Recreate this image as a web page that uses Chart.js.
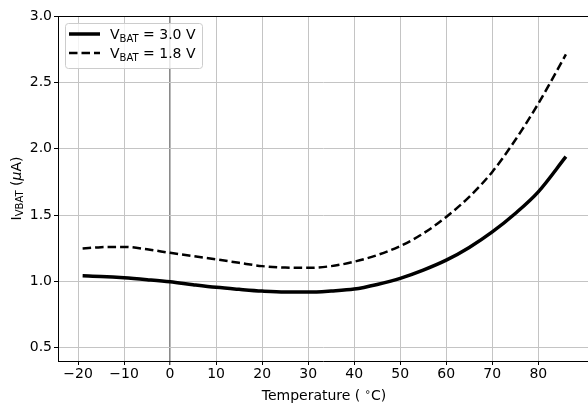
<!DOCTYPE html>
<html>
<head>
<meta charset="utf-8">
<script src="https://cdn.jsdelivr.net/npm/chart.js@4/dist/chart.umd.min.js"></script>
<style>
  html, body { margin: 0; padding: 0; background: #fff; }
  #wrap { width: 588px; height: 404px; position: relative; }
</style>
</head>
<body>
<div id="wrap"><canvas id="c" width="588" height="404"></canvas></div>
<script>
// ---- data ----
const temps = [-19, -15, -10, -5, 0, 5, 10, 15, 20, 25, 30, 35, 40, 45, 50, 55, 60, 65, 70, 75, 80, 86];
const ivbat30 = [1.042, 1.037, 1.027, 1.013, 0.997, 0.975, 0.955, 0.940, 0.927, 0.920, 0.920, 0.928, 0.942, 0.977, 1.023, 1.085, 1.160, 1.256, 1.373, 1.512, 1.675, 1.940];
const ivbat18 = [1.248, 1.258, 1.260, 1.242, 1.215, 1.190, 1.166, 1.140, 1.115, 1.104, 1.102, 1.115, 1.148, 1.198, 1.266, 1.361, 1.486, 1.637, 1.825, 2.065, 2.340, 2.710];
const seriesVoltages = ['3.0 V', '1.8 V'];
const xTicks = [-20, -10, 0, 10, 20, 30, 40, 50, 60, 70, 80];
const yTicks = [0.5, 1.0, 1.5, 2.0, 2.5, 3.0];
const xTitle = ['Temperature (', '\u2218', 'C)'];
const yTitle = ['I', 'VBAT', ' (', '\u03bc', 'A)'];

const FONT = '"DejaVu Sans", sans-serif';
const GRID = '#c4c4c4';
const FS = 14, FSS = 10;
const DASH = [8.5, 4];

function pts(xs, ys) { return xs.map((x, i) => ({ x: x, y: ys[i] })); }

const decorPlugin = {
  id: 'decor',
  afterDraw(chart) {
    const ctx = chart.ctx;
    const a = chart.chartArea;
    ctx.save();
    // top spine
    ctx.strokeStyle = '#000';
    ctx.lineWidth = 1;
    ctx.beginPath();
    ctx.moveTo(a.left, Math.round(a.top) + 0.5);
    ctx.lineTo(588, Math.round(a.top) + 0.5);
    ctx.stroke();

    // legend box
    const bx = 65.5, by = 23.5, bw = 137, bh = 45;
    ctx.fillStyle = 'rgba(255,255,255,0.8)';
    ctx.strokeStyle = '#cccccc';
    ctx.lineWidth = 1;
    ctx.beginPath();
    ctx.roundRect(bx, by, bw, bh, 3);
    ctx.fill();
    ctx.stroke();

    const rows = [
      { y: 34, width: 3.5, dash: [] , v: seriesVoltages[0]},
      { y: 53, width: 2.5, dash: DASH, v: seriesVoltages[1]}
    ];
    rows.forEach(r => {
      ctx.strokeStyle = '#000';
      ctx.lineWidth = r.width;
      ctx.setLineDash(r.dash);
      ctx.beginPath();
      ctx.moveTo(69, r.y);
      ctx.lineTo(100, r.y);
      ctx.stroke();
      ctx.setLineDash([]);
      ctx.fillStyle = '#000';
      ctx.textBaseline = 'alphabetic';
      ctx.textAlign = 'left';
      let x = 110;
      const base = r.y + 5;
      ctx.font = FS + 'px ' + FONT;
      ctx.fillText('V', x, base);
      x += ctx.measureText('V').width;
      ctx.font = FSS + 'px ' + FONT;
      ctx.fillText('BAT', x, base + 3);
      x += ctx.measureText('BAT').width;
      ctx.font = FS + 'px ' + FONT;
      ctx.fillText(' = ' + r.v, x, base);
    });

    // y title (rotated, with subscript)
    ctx.save();
    ctx.translate(17, (a.top + a.bottom) / 2);
    ctx.rotate(-Math.PI / 2);
    const parts = [
      { t: yTitle[0], f: FS + 'px ' + FONT, dy: 0 },
      { t: yTitle[1], f: FSS + 'px ' + FONT, dy: 3 },
      { t: yTitle[2], f: FS + 'px ' + FONT, dy: 0 },
      { t: yTitle[3], f: 'italic ' + FS + 'px ' + FONT, dy: 0 },
      { t: yTitle[4], f: FS + 'px ' + FONT, dy: 0 }
    ];
    let tw = 0;
    parts.forEach(p => { ctx.font = p.f; p.w = ctx.measureText(p.t).width; tw += p.w; });
    let px = -tw / 2;
    ctx.fillStyle = '#000';
    ctx.textAlign = 'left';
    ctx.textBaseline = 'middle';
    parts.forEach(p => { ctx.font = p.f; ctx.fillText(p.t, px, p.dy); px += p.w; });
    ctx.restore();

    // x title with superscript ring
    const xp = [
      { t: xTitle[0] + ' ', f: FS + 'px ' + FONT, dy: 0 },
      { t: xTitle[1], f: FSS + 'px ' + FONT, dy: -5 },
      { t: xTitle[2], f: FS + 'px ' + FONT, dy: 0 }
    ];
    let xw = 0;
    xp.forEach(p => { ctx.font = p.f; p.w = ctx.measureText(p.t).width; xw += p.w; });
    let xx = 324 - xw / 2;
    ctx.textBaseline = 'alphabetic';
    xp.forEach(p => { ctx.font = p.f; ctx.fillText(p.t, xx, 400 + p.dy); xx += p.w; });

    ctx.restore();
  }
};

new Chart(document.getElementById('c'), {
  type: 'line',
  data: {
    datasets: [
      {
        label: 'VBAT = ' + seriesVoltages[0],
        data: pts(temps, ivbat30),
        borderColor: '#000',
        borderWidth: 3.5,
        pointRadius: 0,
        cubicInterpolationMode: 'monotone',
        fill: false
      },
      {
        label: 'VBAT = ' + seriesVoltages[1],
        data: pts(temps, ivbat18),
        borderColor: '#000',
        borderWidth: 2.5,
        borderDash: DASH,
        pointRadius: 0,
        cubicInterpolationMode: 'monotone',
        fill: false
      }
    ]
  },
  options: {
    responsive: false,
    animation: false,
    devicePixelRatio: 1,
    layout: { padding: { left: 0, top: 16, right: 0, bottom: 0 } },
    plugins: { legend: { display: false }, tooltip: { enabled: false } },
    scales: {
      x: {
        type: 'linear',
        min: -24.35,
        max: 90.8,
        afterFit(axis) { axis.height = 43; },
        afterBuildTicks(axis) { axis.ticks = xTicks.map(v => ({ value: v })); },
        ticks: {
          color: '#000',
          font: { family: FONT, size: FS },
          padding: 1,
          maxRotation: 0,
          autoSkip: false,
          callback: v => String(v).replace('-', '\u2212')
        },
        grid: {
          color: ctx => (ctx.tick && ctx.tick.value === 0) ? '#8a8a8a' : GRID,
          lineWidth: ctx => (ctx.tick && ctx.tick.value === 0) ? 1.6 : 1,
          drawTicks: true,
          tickLength: 4,
          tickColor: '#000',
          tickWidth: 1
        },
        border: { display: true, color: '#000', width: 1 }
      },
      y: {
        min: 0.4,
        max: 3.0,
        afterFit(axis) { axis.width = 58; },
        afterBuildTicks(axis) { axis.ticks = yTicks.map(v => ({ value: v })); },
        ticks: {
          color: '#000',
          font: { family: FONT, size: FS },
          padding: 2,
          autoSkip: false,
          callback: v => Number(v).toFixed(1)
        },
        grid: {
          color: GRID,
          lineWidth: 1,
          drawTicks: true,
          tickLength: 4,
          tickColor: '#000',
          tickWidth: 1
        },
        border: { display: true, color: '#000', width: 1 }
      }
    }
  },
  plugins: [decorPlugin]
});
</script>
</body>
</html>
